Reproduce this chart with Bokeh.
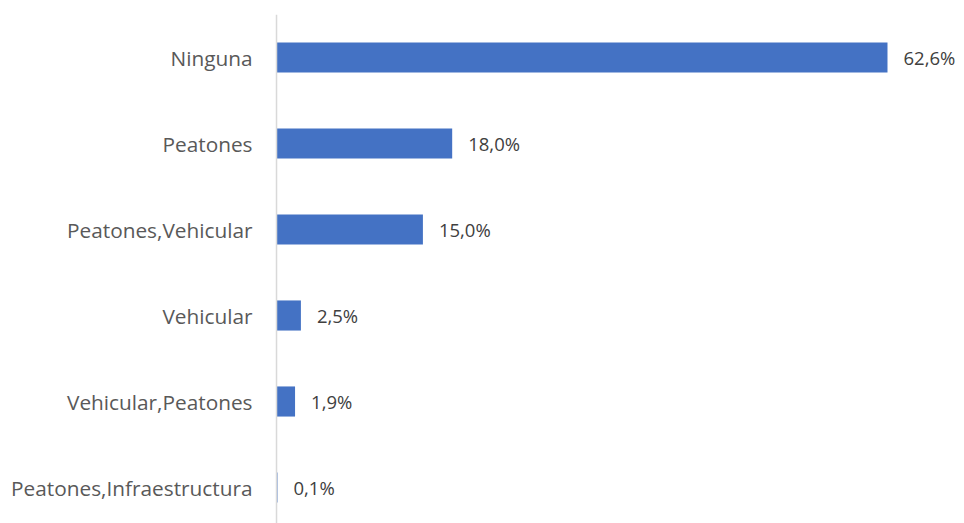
from bokeh.plotting import figure
from bokeh.models import Range1d, Span, ColumnDataSource
from bokeh.core.properties import value
from bokeh.embed import file_html
from bokeh.resources import INLINE

categories = ["Ninguna", "Peatones", "Peatones,Vehicular", "Vehicular",
              "Vehicular,Peatones", "Peatones,Infraestructura"]
values = [62.6, 18.0, 15.0, 2.5, 1.9, 0.1]
labels = ["62,6%", "18,0%", "15,0%", "2,5%", "1,9%", "0,1%"]

ypos = list(range(len(categories)))
src = ColumnDataSource(dict(y=ypos, v=values, cat=categories, lab=labels,
                            zero=[0] * len(values)))

p = figure(width=964, height=523, output_backend="svg", toolbar_location=None,
           x_range=Range1d(-28.279, 70.49), y_range=Range1d(5.4186, -0.5),
           min_border_left=0, min_border_right=0, min_border_top=14,
           min_border_bottom=0, outline_line_color=None)
p.xaxis.visible = False
p.yaxis.visible = False
p.xgrid.visible = False
p.ygrid.visible = False

p.hbar(y="y", left=0, right="v", height=0.35, source=src,
       fill_color="#4472C4", line_color=None)
p.add_layout(Span(location=0, dimension="height", line_color="#D9D9D9",
                  line_width=1.5))

font = value("Open Sans")
p.text(x="zero", y="y", text="cat", source=src, text_align="right",
       text_baseline="middle", x_offset=-24, text_font=font,
       text_font_size="20.8px", text_color="#595959")
p.text(x="v", y="y", text="lab", source=src, text_align="left",
       text_baseline="middle", x_offset=16, text_font=font,
       text_font_size="18.5px", text_color="#404040")

open("out.html", "w").write(file_html(p, INLINE))
